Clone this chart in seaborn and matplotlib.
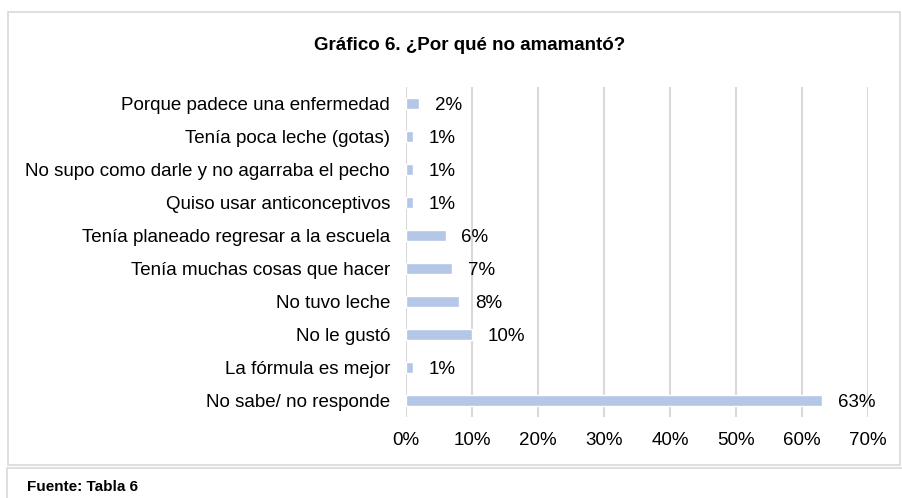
import matplotlib
matplotlib.use("Agg")
import matplotlib.pyplot as plt
import seaborn as sns
import pandas as pd
from matplotlib.patches import Rectangle
from matplotlib.ticker import PercentFormatter

# datos
motivos = [
    "Porque padece una enfermedad",
    "Tenía poca leche (gotas)",
    "No supo como darle y no agarraba el pecho",
    "Quiso usar anticonceptivos",
    "Tenía planeado regresar a la escuela",
    "Tenía muchas cosas que hacer",
    "No tuvo leche",
    "No le gustó",
    "La fórmula es mejor",
    "No sabe/ no responde",
]
porcentajes = [0.02, 0.01, 0.01, 0.01, 0.06, 0.07, 0.08, 0.10, 0.01, 0.63]
etiquetas = ["2%", "1%", "1%", "1%", "6%", "7%", "8%", "10%", "1%", "63%"]
ticks_x = [0, 0.1, 0.2, 0.3, 0.4, 0.5, 0.6, 0.7]

df = pd.DataFrame({"motivo": motivos, "pct": porcentajes})

sns.set_style("white")
plt.rcParams["font.family"] = ["Liberation Sans", "DejaVu Sans"]
plt.rcParams["text.color"] = "#000000"

fig = plt.figure(figsize=(9.02, 4.98), dpi=100)
W, H = 902, 498
ax = fig.add_axes([406 / W, 1 - 417 / H, (868 - 406) / W, (417 - 87) / H])

sns.barplot(data=df, x="pct", y="motivo", color="#B4C7E7", width=0.35,
            saturation=1, ax=ax, orient="h")

for i, (v, lab) in enumerate(zip(porcentajes, etiquetas)):
    ax.text(v + 0.024, i, lab, va="center_baseline", ha="left", fontsize=13.5,
            color="#000000")

ax.set_xlim(0, 0.7)
ax.set_ylim(9.5, -0.5)
ax.set_xticks(ticks_x)
ax.xaxis.set_major_formatter(PercentFormatter(1.0, decimals=0))
ax.grid(axis="x", color="#D9D9D9", linewidth=1.5)
ax.set_axisbelow(True)
for s in ax.spines.values():
    s.set_visible(False)
ax.tick_params(axis="both", length=0, labelsize=13.5, colors="#000000")
ax.tick_params(axis="x", pad=11)
ax.tick_params(axis="y", pad=11.5)
ax.set_xlabel("")
ax.set_ylabel("")

# marcos
fig.patches.append(Rectangle((8 / W, 1 - 465 / H), (900 - 8) / W, (465 - 12) / H,
                             transform=fig.transFigure, fill=False,
                             edgecolor="#D9D9D9", linewidth=1.2))
fig.patches.append(Rectangle((7 / W, -0.01), 1.0, (498 - 468) / H + 0.01,
                             transform=fig.transFigure, fill=False,
                             edgecolor="#D9D9D9", linewidth=1.2))

fig.text(470 / W, 1 - 45 / H, "Gráfico 6. ¿Por qué no amamantó?", ha="center",
         va="center", fontsize=13.5, fontweight="bold", color="#000000")
fig.text(27 / W, 1 - 487 / H, "Fuente: Tabla 6", ha="left", va="center",
         fontsize=11, fontweight="bold", color="#000000")

fig.savefig("out.png", dpi=100)
